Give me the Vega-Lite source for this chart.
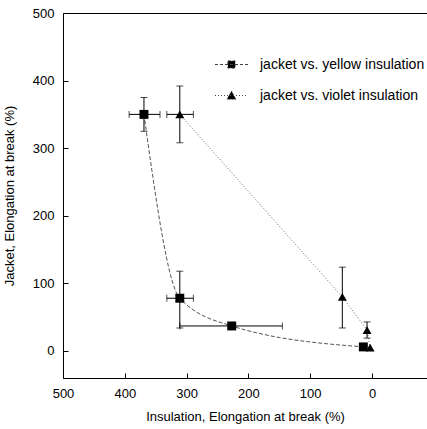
{
  "$schema": "https://vega.github.io/schema/vega-lite/v6.json",
  "width": 364,
  "height": 365,
  "autosize": "none",
  "padding": {"left": 63, "top": 13, "right": 0, "bottom": 51},
  "background": "white",
  "config": {
    "view": {"stroke": "black", "strokeWidth": 1},
    "font": "Liberation Sans",
    "axis": {
      "grid": false,
      "domainColor": "black",
      "tickColor": "black",
      "labelFont": "Liberation Sans",
      "labelFontSize": 13,
      "labelColor": "black",
      "titleFont": "Liberation Sans",
      "titleFontSize": 13,
      "titleFontWeight": "normal",
      "titleColor": "black",
      "tickSize": -5,
      "labelPadding": 14,
      "labelFlush": false
    },
    "legend": {
      "orient": "none",
      "legendX": 153,
      "legendY": 36,
      "padding": 0,
      "rowPadding": 8,
      "symbolSize": 900,
      "symbolStrokeWidth": 1,
      "symbolOpacity": 1,
      "labelOffset": 13,
      "labelFont": "Liberation Sans",
      "labelFontSize": 14,
      "labelColor": "black",
      "labelLimit": 300
    }
  },
  "datasets": {
    "pts": [
      {"series": "jacket vs. yellow insulation", "x": 369, "y": 350},
      {"series": "jacket vs. yellow insulation", "x": 311, "y": 78},
      {"series": "jacket vs. yellow insulation", "x": 227, "y": 37},
      {"series": "jacket vs. yellow insulation", "x": 14, "y": 6},
      {"series": "jacket vs. violet insulation", "x": 311, "y": 350},
      {"series": "jacket vs. violet insulation", "x": 48, "y": 80},
      {"series": "jacket vs. violet insulation", "x": 8, "y": 31},
      {"series": "jacket vs. violet insulation", "x": 3, "y": 5}
    ],
    "xerr": [
      {"series": "jacket vs. yellow insulation", "y": 350, "xlo": 343, "xhi": 393},
      {"series": "jacket vs. yellow insulation", "y": 78, "xlo": 289, "xhi": 332},
      {"series": "jacket vs. yellow insulation", "y": 37, "xlo": 145, "xhi": 311},
      {"series": "jacket vs. violet insulation", "y": 350, "xlo": 289, "xhi": 332}
    ],
    "yerr": [
      {"series": "jacket vs. yellow insulation", "x": 369, "ylo": 325, "yhi": 375},
      {"series": "jacket vs. yellow insulation", "x": 311, "ylo": 34, "yhi": 118},
      {"series": "jacket vs. violet insulation", "x": 311, "ylo": 308, "yhi": 392},
      {"series": "jacket vs. violet insulation", "x": 48, "ylo": 34, "yhi": 124},
      {"series": "jacket vs. violet insulation", "x": 8, "ylo": 19, "yhi": 43}
    ]
  },
  "resolve": {"scale": {"shape": "independent", "strokeDash": "independent"}},
  "layer": [
    {
      "data": {"name": "pts"},
      "transform": [{"filter": "datum.series === 'jacket vs. yellow insulation'"}],
      "mark": {"type": "line", "interpolate": "monotone", "strokeWidth": 1, "color": "#555", "strokeDash": [4, 2]},
      "encoding": {
        "x": {"field": "x", "type": "quantitative", "title": "Insulation, Elongation at break (%)",
          "scale": {"domain": [-89, 500], "reverse": true, "nice": false, "zero": false},
          "axis": {"values": [500, 400, 300, 200, 100, 0], "titlePadding": 10}},
        "y": {"field": "y", "type": "quantitative", "title": "Jacket, Elongation at break (%)",
          "scale": {"domain": [-40, 500], "nice": false, "zero": false},
          "axis": {"values": [0, 100, 200, 300, 400, 500], "titlePadding": 16}}
      }
    },
    {
      "data": {"name": "pts"},
      "transform": [{"filter": "datum.series === 'jacket vs. violet insulation'"}],
      "mark": {"type": "line", "strokeWidth": 1, "color": "#666", "strokeDash": [1, 2]},
      "encoding": {
        "x": {"field": "x", "type": "quantitative", "title": "Insulation, Elongation at break (%)"},
        "y": {"field": "y", "type": "quantitative", "title": "Jacket, Elongation at break (%)"}
      }
    },
    {
      "data": {"name": "xerr"},
      "mark": {"type": "errorbar", "ticks": {"size": 7}, "rule": {"strokeWidth": 1}, "color": "black"},
      "encoding": {
        "x": {"field": "xlo", "type": "quantitative", "title": "Insulation, Elongation at break (%)"},
        "x2": {"field": "xhi"},
        "y": {"field": "y", "type": "quantitative", "title": "Jacket, Elongation at break (%)"}
      }
    },
    {
      "data": {"name": "yerr"},
      "mark": {"type": "errorbar", "ticks": {"size": 7}, "rule": {"strokeWidth": 1}, "color": "black"},
      "encoding": {
        "y": {"field": "ylo", "type": "quantitative", "title": "Jacket, Elongation at break (%)"},
        "y2": {"field": "yhi"},
        "x": {"field": "x", "type": "quantitative", "title": "Insulation, Elongation at break (%)"}
      }
    },
    {
      "data": {"name": "pts"},
      "mark": {"type": "point", "filled": true, "opacity": 1, "color": "black", "size": 80},
      "encoding": {
        "x": {"field": "x", "type": "quantitative", "title": "Insulation, Elongation at break (%)"},
        "y": {"field": "y", "type": "quantitative", "title": "Jacket, Elongation at break (%)"},
        "shape": {
          "field": "series",
          "type": "nominal",
          "scale": {"domain": ["jacket vs. yellow insulation", "jacket vs. violet insulation"], "range": ["square", "triangle-up"]},
          "legend": null
        }
      }
    },
    {
      "data": {"name": "pts"},
      "mark": {"type": "point", "filled": false, "opacity": 0, "color": "#444", "fill": "black", "strokeWidth": 1},
      "encoding": {
        "x": {"field": "x", "type": "quantitative", "title": "Insulation, Elongation at break (%)"},
        "y": {"field": "y", "type": "quantitative", "title": "Jacket, Elongation at break (%)"},
        "shape": {
          "field": "series",
          "type": "nominal",
          "title": null,
          "scale": {"domain": ["jacket vs. yellow insulation", "jacket vs. violet insulation"],
            "range": ["M-1.1,0H1.1M-0.24,-0.24H0.24V0.24H-0.24Z", "M-1.1,0H1.1M0,-0.3L0.3,0.25H-0.3Z"]}
        },
        "strokeDash": {
          "field": "series",
          "type": "nominal",
          "title": null,
          "scale": {"domain": ["jacket vs. yellow insulation", "jacket vs. violet insulation"],
            "range": [[3, 2], [1, 2]]}
        }
      }
    }
  ]
}
